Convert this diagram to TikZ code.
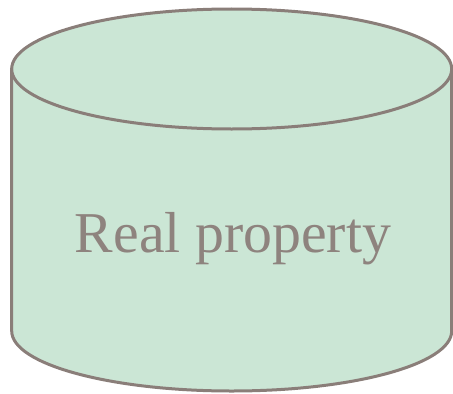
\documentclass[tikz,border=0pt]{standalone}
\usepackage{fontspec}
\setmainfont{Liberation Serif}
\usepackage{xcolor}
\usepackage{tikz}
\usetikzlibrary{positioning,calc}
\definecolor{drumfill}{HTML}{CBE6D5}
\definecolor{drumline}{HTML}{8A7E79}
\definecolor{drumtext}{HTML}{8E837E}
\tikzset{
  drumedge/.style={draw=drumline,line width=3bp,fill=drumfill},
  drumlabel/.style={text=drumtext,font=\fontsize{58}{60}\selectfont,inner sep=0pt}
}

\begin{document}
\begin{tikzpicture}[x=1bp,y=1bp]
  \useasboundingbox (0,0) rectangle (453,393);
  % body of the drum
  \draw[drumedge] (11.7,324) -- (11.7,62)
    arc[start angle=180,end angle=360,x radius=220,y radius=60] -- (451.7,324) -- cycle;
  % lid
  \draw[drumedge] (231.7,324) ellipse[x radius=220,y radius=60];
  \node[drumlabel,anchor=base] (label) at (233,141) {Real property};
\end{tikzpicture}
\end{document}
